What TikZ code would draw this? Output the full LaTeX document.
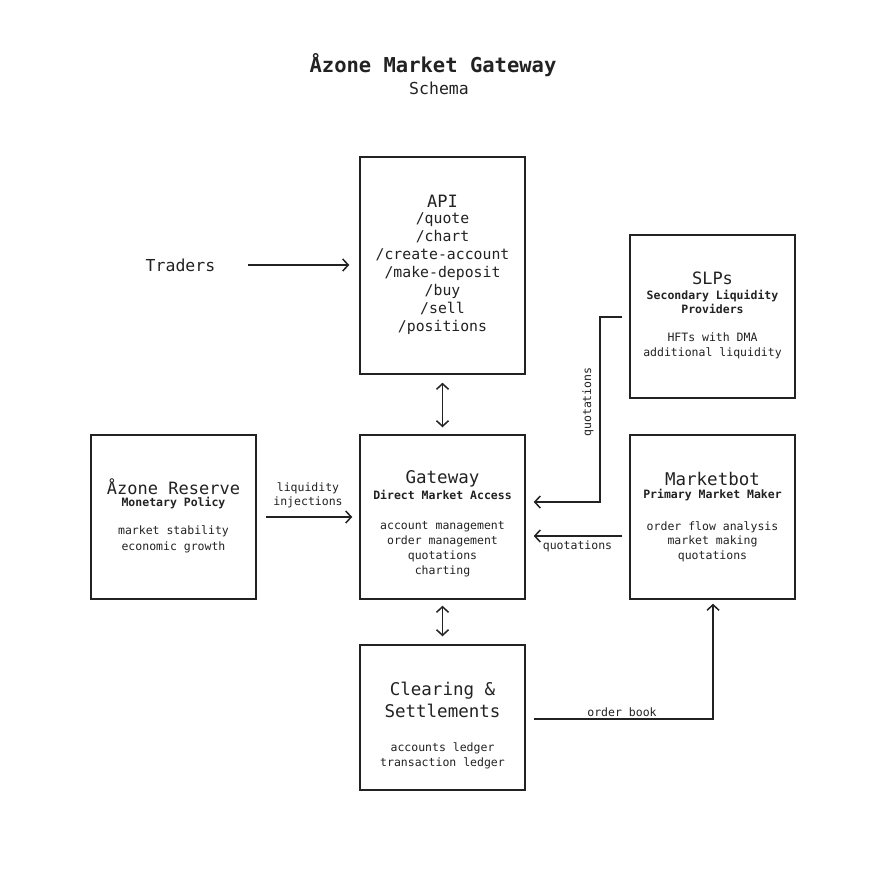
\documentclass[tikz,border=0pt]{standalone}
\usepackage{fontspec}
\setmainfont{DejaVu Sans Mono}
\setmonofont{DejaVu Sans Mono}
\usetikzlibrary{arrows.meta,calc}
\definecolor{ink}{HTML}{222222}
\newcommand{\fs}[2]{\fontsize{#1}{#2}\selectfont}
\tikzset{
  box/.style={draw=ink, line width=1.5pt, inner sep=0pt, minimum width=165pt},
  txt/.style={text=ink, align=center, inner sep=0pt},
  tip/.tip={Straight Barb[length=5.5pt,width=12pt,line width=1.5pt]},
  conn/.style={draw=ink, line width=1.5pt, -tip},
  dconn/.style={draw=ink, line width=1.5pt, tip-tip},
  elabel/.style={text=ink, inner sep=0pt, font=\fs{11.5}{14.5}, align=center},
}
\begin{document}
\begin{tikzpicture}[x=1pt,y=-1pt]
\useasboundingbox[fill=white] (0,0) rectangle (885,878);
% title
\node[txt, font=\bfseries\fs{20.5}{24}] (title) at (433,65) {Åzone Market Gateway};
\node[txt, font=\fs{16.5}{20}] (subtitle) at (439,88) {Schema};

% boxes
\node[box, minimum height=217pt] (api) at (442.5,265.5) {};
\node[box, minimum height=163pt] (slp) at (712.5,316.5) {};
\node[box, minimum height=164pt] (res) at (173.5,517) {};
\node[box, minimum height=164pt] (gw) at (442.5,517) {};
\node[box, minimum height=164pt] (mb) at (712.5,517) {};
\node[box, minimum height=145pt] (cs) at (442.5,717.5) {};

% API text
\node[txt, font=\fs{17}{20}] (apit) at (442.5,201) {API};
\node[txt, font=\fs{14.8}{18}] (apib) at (442.5,274) {/quote\\/chart\\/create-account\\/make-deposit\\/buy\\/sell\\/positions};

% SLPs text
\node[txt, font=\fs{17}{20}] (slpt) at (712.5,278) {SLPs};
\node[txt, font=\bfseries\fs{11.5}{14.5}] (slps) at (712.5,302) {Secondary Liquidity\\Providers};
\node[txt, font=\fs{11.5}{15}] (slpb) at (712.5,345.5) {HFTs with DMA\\additional liquidity};

% Reserve text
\node[txt, font=\fs{17}{20}] (rest) at (173.5,487) {Åzone Reserve};
\node[txt, font=\bfseries\fs{11.5}{14.5}] (ress) at (173.5,503) {Monetary Policy};
\node[txt, font=\fs{11.5}{16}] (resb) at (173.5,539) {market stability\\economic growth};

% Gateway text
\node[txt, font=\fs{17.5}{20}] (gwt) at (442.5,479) {Gateway};
\node[txt, font=\bfseries\fs{11.5}{14.5}] (gws) at (442.5,495) {Direct Market Access};
\node[txt, font=\fs{11.5}{14.8}] (gwb) at (442.5,549) {account management\\order management\\quotations\\charting};

% Marketbot text
\node[txt, font=\fs{17.5}{20}] (mbt) at (712.5,479) {Marketbot};
\node[txt, font=\bfseries\fs{11.5}{14.5}] (mbs) at (712.5,495) {Primary Market Maker};
\node[txt, font=\fs{11.5}{14.7}] (mbb) at (712.5,541.5) {order flow analysis\\market making\\quotations};

% Clearing text
\node[txt, font=\fs{17.5}{22}] (cst) at (442.5,700) {Clearing \&\\Settlements};
\node[txt, font=\fs{11.5}{15}] (csb) at (442.5,755.5) {accounts ledger\\transaction ledger};

% Traders
\node[txt, font=\fs{16.5}{20}] (traders) at (180.5,265) {Traders};

% connectors
\coordinate (slpK1) at (600,317);
\coordinate (slpK2) at (600,502);
\coordinate (obK) at (713,719);

\draw[conn, shorten <=33pt, shorten >=10pt] (traders.east |- 0,265) -- (api.west |- 0,265);
\draw[dconn, shorten <=8pt, shorten >=7pt] (api.south) -- (gw.north);
\draw[dconn, shorten <=6pt, shorten >=8pt] (gw.south) -- (cs.north);
\draw[conn, shorten <=9pt, shorten >=7pt] (res.east) -- (gw.west)
  node[elabel, pos=0.5, above=8pt] (lqlab) {liquidity\\injections};
\draw[conn, shorten <=7pt, shorten >=8pt] (slp.west |- slpK1) -- (slpK1) -- (slpK2) -- (gw.east |- slpK2);
\node[elabel, rotate=90] (q1lab) at (588,402) {quotations};
\draw[conn, shorten <=7pt, shorten >=8pt] (mb.west |- 0,536) -- (gw.east |- 0,536)
  node[elabel, pos=0.5, below=4pt] (q2lab) {quotations};
\draw[conn, shorten <=8pt, shorten >=4pt] (cs.east |- obK) -- (obK) -- (mb.south -| obK);
\node[elabel] (oblab) at (622,712) {order book};
\end{tikzpicture}
\end{document}
